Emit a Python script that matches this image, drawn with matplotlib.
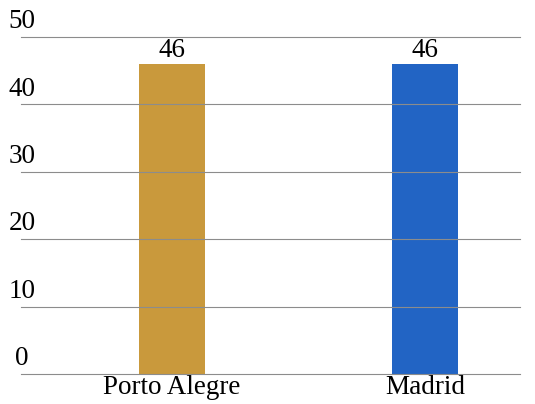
import matplotlib.pyplot as plt
from matplotlib.transforms import blended_transform_factory, offset_copy

categories = ["Porto Alegre", "Madrid"]
values = [46, 46]
bar_colors = ["#C9993C", "#2264C4"]
y_ticks = [0, 10, 20, 30, 40, 50]

plt.rcParams["font.family"] = ["Liberation Serif", "DejaVu Serif"]

fig = plt.figure(figsize=(5.35, 4.04), dpi=100)
ax = fig.add_axes([21 / 535, 30 / 404, 499 / 535, 337 / 404])

positions = range(len(categories))
ax.bar(positions, values, width=0.26, color=bar_colors, zorder=1)
for x, v in zip(positions, values):
    ax.text(x, v + 0.2, str(v), ha="center", va="bottom", fontsize=19.5, zorder=3)

ax.set_xlim(-0.597, 1.375)
ax.set_ylim(0, 50)
for t in y_ticks:
    ax.axhline(t, color="#8c8c8c", linewidth=0.8, zorder=2, clip_on=False)

ax.set_yticks([])
trans = offset_copy(blended_transform_factory(ax.transAxes, ax.transData), fig=fig, x=0, y=2, units="points")
for t in y_ticks:
    ax.text(0.002, t, str(t), ha="center", va="bottom", fontsize=19.5, transform=trans)

ax.set_xticks(list(positions))
ax.set_xticklabels(categories, fontsize=19.5)
ax.tick_params(axis="x", length=0, pad=1)
for spine in ax.spines.values():
    spine.set_visible(False)

fig.savefig("out.png", dpi=100)
